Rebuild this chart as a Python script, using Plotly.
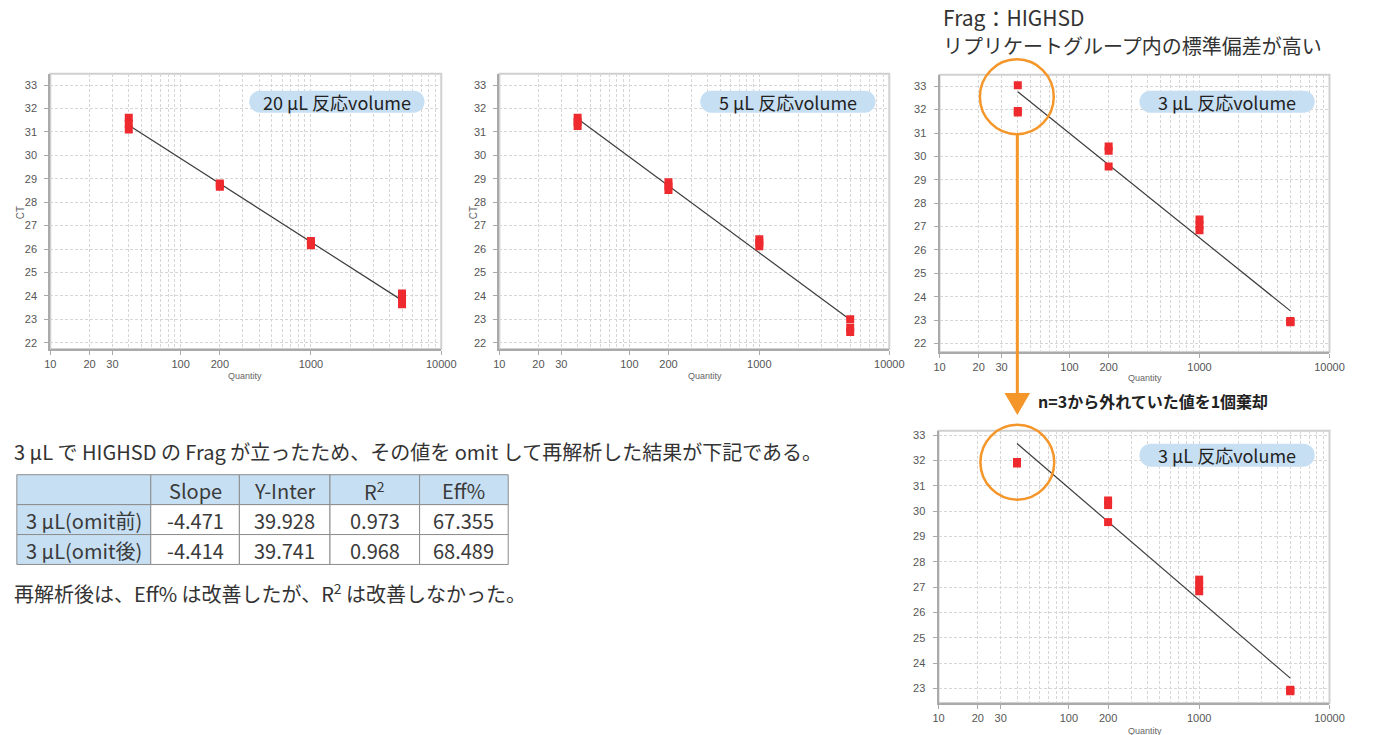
import numpy as np
import plotly.graph_objects as go

W, H = 1376, 735

# ---- data -------------------------------------------------------------
# 5-fold dilution series, three replicates per standard
qty = [40, 40, 40, 200, 200, 200, 1000, 1000, 1000, 5000, 5000, 5000]

ct_20ul = [31.60, 31.35, 31.10, 28.80, 28.72, 28.66, 26.34, 26.24, 26.16, 24.10, 23.86, 23.64]
ct_5ul = [31.60, 31.42, 31.25, 28.85, 28.68, 28.52, 26.42, 26.27, 26.12, 23.00, 22.64, 22.46]
ct_3ul = [33.04, 31.94, 31.88, 30.42, 30.24, 29.57, 27.30, 27.06, 26.84, 22.96, 22.93, 22.90]

# 3 uL after omitting the outlying replicate at 40
qty_3ul_omit = [40, 40, 200, 200, 200, 1000, 1000, 1000, 5000, 5000, 5000]
ct_3ul_omit = [31.94, 31.88, 30.42, 30.24, 29.57, 27.30, 27.06, 26.84, 22.96, 22.93, 22.90]

# standard-curve summary for 3 uL
row_names = ["3 µL(omit前)", "3 µL(omit後)"]
slope = [-4.471, -4.414]
y_inter = [39.928, 39.741]
r2 = [0.973, 0.968]
eff = [67.355, 68.489]
table_header = ["", "Slope", "Y-Inter", "R<sup>2</sup>", "Eff%"]

x_tickvals = [10, 20, 30, 100, 200, 1000, 10000]
x_ticktext = ["10", "20", "30", "100", "200", "1000", "10000"]
x_minor = [m * d for d in (10, 100, 1000) for m in range(2, 10)
           if m * d not in x_tickvals]

panel_titles = ["20 µL 反応volume", "5 µL 反応volume", "3 µL 反応volume", "3 µL 反応volume"]


# ---- helpers ----------------------------------------------------------
def fx(p):
    return p / W


def fy(p):
    return 1 - p / H


def fit_line(q, ct):
    m, b = np.polyfit(np.log10(q), ct, 1)
    return m, b


RED = "#ee2a2e"
ORANGE = "#f5962a"
BLUE = "#c7dff3"
GRID = "#d6d6d6"
AXIS = "#aaaaaa"
TICKFONT = dict(family="Liberation Sans, Arial, sans-serif", size=11, color="#555555")
JP = "Noto Sans CJK JP, sans-serif"

fig = go.Figure()

# panel geometry in pixels: x0, x1, y_top, y_bottom, y-range, y ticks
panels = [
    dict(x=(45, 442), y=(72, 348), yr=(21.73, 33.48), yt=list(range(22, 34)),
         q=qty, ct=ct_20ul, fit=None, ct_label=(15, 211), qlab=(243, 375)),
    dict(x=(501, 897), y=(72, 348), yr=(21.73, 33.48), yt=list(range(22, 34)),
         q=qty, ct=ct_5ul, fit=None, ct_label=(475, 211), qlab=(710, 375)),
    dict(x=(948, 1344), y=(73, 351), yr=(21.63, 33.49), yt=list(range(22, 34)),
         q=qty, ct=ct_3ul, fit=(slope[0], y_inter[0]), ct_label=None, qlab=(1157, 377)),
    dict(x=(947, 1344), y=(430, 703), yr=(22.43, 33.17), yt=list(range(23, 34)),
         q=qty_3ul_omit, ct=ct_3ul_omit, fit=(slope[1], y_inter[1]), ct_label=None, qlab=(1157, 731)),
]

layout_axes = {}
shapes = []
annotations = []

for i, p in enumerate(panels, start=1):
    xa = "x" if i == 1 else f"x{i}"
    ya = "y" if i == 1 else f"y{i}"

    m, b = p["fit"] if p["fit"] is not None else fit_line(p["q"], p["ct"])
    line_x = [min(p["q"]), max(p["q"])]
    line_y = [b + m * np.log10(v) for v in line_x]

    fig.add_trace(go.Scatter(
        x=line_x, y=line_y, mode="lines", xaxis=xa, yaxis=ya,
        line=dict(color="#3c3c3c", width=1.2), showlegend=False, hoverinfo="skip"))
    fig.add_trace(go.Scatter(
        x=p["q"], y=p["ct"], mode="markers", xaxis=xa, yaxis=ya,
        marker=dict(symbol="square", size=8, color=RED, line=dict(width=0)),
        showlegend=False))

    layout_axes["xaxis" if i == 1 else f"xaxis{i}"] = dict(
        type="log", range=[1, 4], domain=[fx(p["x"][0]), fx(p["x"][1])],
        anchor=ya, tickmode="array", tickvals=x_tickvals, ticktext=x_ticktext,
        tickfont=TICKFONT, ticks="outside", ticklen=4, tickcolor=AXIS,
        showline=True, linecolor=AXIS, linewidth=2,
        showgrid=True, gridcolor=GRID, griddash="3px,2px", gridwidth=1,
        minor=dict(tickvals=x_minor, showgrid=True, gridcolor=GRID,
                   griddash="3px,2px", gridwidth=1, ticks=""),
        zeroline=False, fixedrange=True)
    layout_axes["yaxis" if i == 1 else f"yaxis{i}"] = dict(
        range=list(p["yr"]), domain=[fy(p["y"][1]), fy(p["y"][0])],
        anchor=xa, tickmode="array", tickvals=p["yt"],
        tickfont=TICKFONT, ticks="outside", ticklen=4, tickcolor=AXIS,
        ticklabelstandoff=5,
        showline=True, linecolor=AXIS, linewidth=2,
        showgrid=True, gridcolor=GRID, griddash="3px,2px", gridwidth=1,
        zeroline=False, fixedrange=True)

    # light frame around the plotting area
    shapes.append(dict(type="rect", xref="paper", yref="paper",
                       x0=fx(p["x"][0]), x1=fx(p["x"][1]),
                       y0=fy(p["y"][1]), y1=fy(p["y"][0]),
                       line=dict(color="#d0d0d0", width=2), layer="below"))

    # axis captions
    annotations.append(dict(x=fx(p["qlab"][0]), y=fy(p["qlab"][1]), xref="paper", yref="paper",
                            text="Quantity", showarrow=False, xanchor="center", yanchor="middle",
                            font=dict(family="Liberation Sans, Arial", size=9, color="#666666")))
    if p["ct_label"]:
        annotations.append(dict(x=fx(p["ct_label"][0]), y=fy(p["ct_label"][1]),
                                xref="paper", yref="paper", text="CT", textangle=-90,
                                showarrow=False, xanchor="center", yanchor="middle",
                                font=dict(family="Liberation Sans, Arial", size=10, color="#666666")))


# rounded title badges
def pill_path(x0, y0, x1, y1):
    r = (y1 - y0) / 2
    k = 0.5523 * r
    cy = (y0 + y1) / 2
    pts = [
        ("M", [(x0 + r, y0)]),
        ("L", [(x1 - r, y0)]),
        ("C", [(x1 - r + k, y0), (x1, cy - k), (x1, cy)]),
        ("C", [(x1, cy + k), (x1 - r + k, y1), (x1 - r, y1)]),
        ("L", [(x0 + r, y1)]),
        ("C", [(x0 + r - k, y1), (x0, cy + k), (x0, cy)]),
        ("C", [(x0, cy - k), (x0 + r - k, y0), (x0 + r, y0)]),
    ]
    out = []
    for cmd, coords in pts:
        out.append(cmd + " ".join(f"{fx(a):.5f},{fy(c):.5f}" for a, c in coords))
    return " ".join(out) + " Z"


badges = [(247, 89, 425, 111), (705, 89, 883, 111), (1151, 89, 1329, 111), (1151, 443, 1329, 466)]
for (x0, y0, x1, y1), title in zip(badges, panel_titles):
    shapes.append(dict(type="path", xref="paper", yref="paper", path=pill_path(x0, y0, x1, y1),
                       fillcolor=BLUE, line=dict(width=0), layer="above"))
    annotations.append(dict(x=fx((x0 + x1) / 2), y=fy((y0 + y1) / 2), xref="paper", yref="paper",
                            text=title, showarrow=False, xanchor="center", yanchor="middle",
                            font=dict(family=JP, size=18, color="#222222")))

# orange highlight circles around the 40-copy replicates
for cx, cy in [(1026.5, 95), (1027, 461.5)]:
    r = 37.5
    shapes.append(dict(type="circle", xref="paper", yref="paper",
                       x0=fx(cx - r), x1=fx(cx + r), y0=fy(cy + r), y1=fy(cy - r),
                       line=dict(color=ORANGE, width=2.5)))

# downward arrow linking the two 3 uL plots
shapes.append(dict(type="line", xref="paper", yref="paper",
                   x0=fx(1027), x1=fx(1027), y0=fy(133), y1=fy(394),
                   line=dict(color=ORANGE, width=3)))
shapes.append(dict(type="path", xref="paper", yref="paper",
                   path=f"M{fx(1014):.5f},{fy(392):.5f} L{fx(1040):.5f},{fy(392):.5f} "
                        f"L{fx(1027):.5f},{fy(414):.5f} Z",
                   fillcolor=ORANGE, line=dict(width=0)))

# free text
texts = [
    (949, 15, "Frag：HIGHSD", 21, "#333333"),
    (949, 44, "リプリケートグループ内の標準偏差が高い", 20, "#333333"),
    (1046, 400, "<b>n=3から外れていた値を1個棄却</b>", 16, "#222222"),
    (6, 451, "3 µL で HIGHSD の Frag が立ったため、その値を omit して再解析した結果が下記である。",
     20, "#333333"),
    (6, 593, "再解析後は、Eff% は改善したが、R<sup>2</sup> は改善しなかった。", 20, "#333333"),
]
for x, y, t, s, c in texts:
    annotations.append(dict(x=fx(x), y=fy(y), xref="paper", yref="paper", text=t,
                            showarrow=False, xanchor="left", yanchor="middle",
                            font=dict(family=JP, size=s, color=c)))

# summary table, drawn cell by cell
col_edges = [11, 147, 237, 329, 420, 510]
row_edges = [474, 504, 534, 564]
table_cols = [row_names,
              [f"{v:.3f}" for v in slope],
              [f"{v:.3f}" for v in y_inter],
              [f"{v:.3f}" for v in r2],
              [f"{v:.3f}" for v in eff]]
for r in range(3):
    for c in range(5):
        x0, x1 = col_edges[c], col_edges[c + 1]
        y0, y1 = row_edges[r], row_edges[r + 1]
        fill = BLUE if (r == 0 or c == 0) else "white"
        shapes.append(dict(type="rect", xref="paper", yref="paper",
                           x0=fx(x0), x1=fx(x1), y0=fy(y1), y1=fy(y0),
                           fillcolor=fill, line=dict(color="#8c8c8c", width=1), layer="below"))
        label = table_header[c] if r == 0 else table_cols[c][r - 1]
        if label:
            annotations.append(dict(x=fx((x0 + x1) / 2), y=fy((y0 + y1) / 2 + 1),
                                    xref="paper", yref="paper", text=label, showarrow=False,
                                    xanchor="center", yanchor="middle",
                                    font=dict(family=JP, size=20, color="#3a3a3a")))

fig.update_layout(
    width=W, height=H, autosize=False,
    margin=dict(l=0, r=0, t=0, b=0),
    paper_bgcolor="white", plot_bgcolor="white",
    shapes=shapes, annotations=annotations,
    **layout_axes,
)

fig.write_html("out.html")
